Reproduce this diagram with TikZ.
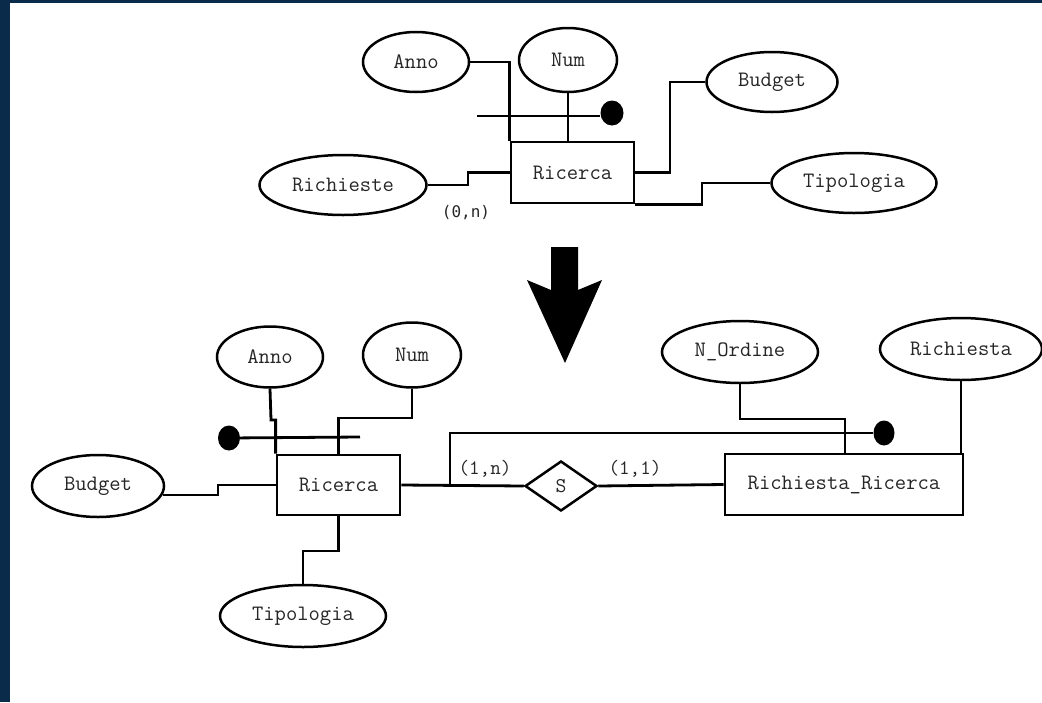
\documentclass[tikz,border=0pt]{standalone}
\usepackage{fontspec}
\usetikzlibrary{shapes.geometric,calc}
\newfontfamily\dvmono{DejaVu Sans Mono}
\definecolor{frame}{HTML}{0B2B4A}
\definecolor{ink}{HTML}{262626}

\begin{document}
\begin{tikzpicture}[x=1pt,y=-1pt,
  attr/.style={ellipse, draw, line width=2.5pt, inner sep=0pt, text=ink,
    font=\ttfamily\fontsize{22}{22}\selectfont},
  ent/.style={rectangle, draw, line width=2.8pt, inner sep=0pt, text=ink,
    font=\ttfamily\fontsize{22}{22}\selectfont},
  rel/.style={diamond, draw, line width=2.5pt, inner sep=0pt, text=ink,
    font=\ttfamily\fontsize{21}{21}\selectfont},
  keydot/.style={ellipse, fill=black, inner sep=0pt},
  link/.style={line width=2.8pt},
  card/.style={inner sep=0pt, text=ink, font=\ttfamily\fontsize{20.5}{20.5}\selectfont}]

% page and frame
\useasboundingbox (0,0) rectangle (1042,702);
\fill[frame] (0,0) rectangle (1042,702);
\fill[white] (10,3) rectangle (1042,702);

% ---------- initial schema ----------
\node[ent, minimum width=123pt, minimum height=61pt] (ricT) at (572.5,172.5) {Ricerca};
\node[attr, minimum width=106pt, minimum height=60pt] (annoT) at (416,62) {Anno};
\node[attr, minimum width=98pt, minimum height=64pt] (numT) at (568,60) {Num};
\node[attr, minimum width=131pt, minimum height=60pt] (budT) at (772,82) {Budget};
\node[attr, minimum width=165pt, minimum height=60pt] (tipT) at (854,183) {Tipologia};
\node[attr, minimum width=167pt, minimum height=60pt] (richT) at (343,185) {Richieste};
\node[keydot, minimum width=23pt, minimum height=25pt] (dotT) at (612,113) {};
\coordinate (idT) at (477,116);
\coordinate (j1) at (468,172.5);
\coordinate (j2) at (670,82);
\coordinate (j3) at (702,183);

\draw[link] (annoT.east) -| (ricT.north west);
\draw[link] (numT.south) -- (numT.south |- ricT.north);
\draw[link] (idT) -- (idT -| dotT.west);
\draw[link] (richT.east) -| (j1) -- (ricT.west);
\draw[link] (ricT.east) -| (j2) -- (budT.west);
\draw[link] (ricT.south east) -| (j3) -- (tipT.west);
\node[inner sep=0pt, text=ink, font=\dvmono\fontsize{16}{16}\selectfont] (cardT) at (466,213) {(0,n)};

% ---------- transformation arrow ----------
\fill (551,247) -- (578,247) -- (578,290) -- (602,280) -- (565,363)
  -- (527,280) -- (551,290) -- cycle;

% ---------- restructured schema ----------
\node[ent, minimum width=123pt, minimum height=60pt] (ricB) at (338.5,485) {Ricerca};
\node[attr, minimum width=106pt, minimum height=61pt] (annoB) at (270,357) {Anno};
\node[attr, minimum width=98pt, minimum height=65pt] (numB) at (412,355) {Num};
\node[attr, minimum width=132pt, minimum height=62pt] (budB) at (98,486) {Budget};
\node[attr, minimum width=166pt, minimum height=62pt] (tipB) at (303,616) {Tipologia};
\node[keydot, minimum width=22pt, minimum height=25pt] (dotB) at (229,438) {};
\coordinate (idB) at (360,437);

\node[rel, minimum width=72pt, minimum height=50pt] (S) at (561,486) {S};
\node[ent, minimum width=238pt, minimum height=61pt] (rr) at (844,484.5) {Richiesta\_Ricerca};
\node[attr, minimum width=156pt, minimum height=62pt] (nord) at (740,352) {N\_Ordine};
\node[attr, minimum width=162pt, minimum height=62pt] (rqs) at (961,349) {Richiesta};
\node[keydot, minimum width=21pt, minimum height=25pt] (dotR) at (884,433) {};

\coordinate (j4) at (271,420);
\coordinate (j5) at (338.5,418);
\coordinate (j6) at (218,485);
\coordinate (j7) at (303,551);
\coordinate (j8) at (845,419);
\coordinate (j9) at (450,485);

\draw[link] (annoB.south) -- (j4) -| (ricB.north west);
\draw[link] (numB.south) |- (j5) -- (ricB.north);
\draw[link] (dotB) -- (idB);
\draw[link] (budB.-8) -| (j6) -- (ricB.west);
\draw[link] (ricB.south) |- (j7) -- (tipB.north);

\draw[link] (ricB.east) -- (S.west);
\draw[link] (S.east) -- (rr.west);
\draw[link] (j9) |- (dotR);
\draw[link] (nord.south) |- (j8) -- (j8 |- rr.north);
\draw[link] (rqs.south) -- (rqs.south |- rr.north east);

\node[card] (c1n) at (485,469) {(1,n)};
\node[card] (c11) at (635,469) {(1,1)};
\end{tikzpicture}
\end{document}
